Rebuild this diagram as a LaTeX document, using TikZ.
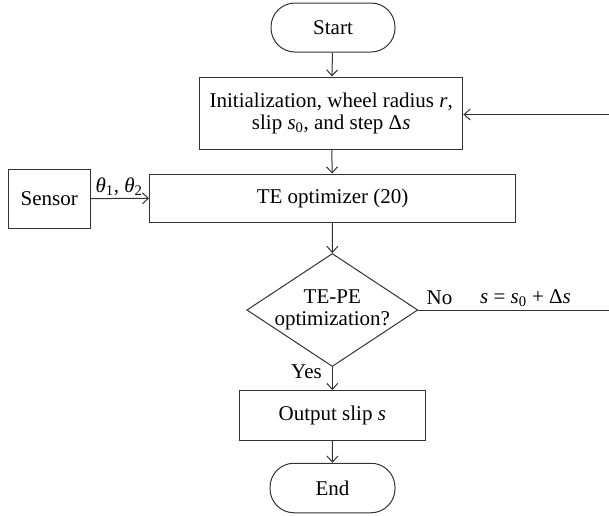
\documentclass[tikz,border=0pt]{standalone}
\usepackage{fontspec}
\setmainfont{Liberation Serif}
\usetikzlibrary{arrows.meta,shapes.geometric,calc}
\begin{document}
\begin{tikzpicture}[x=1pt,y=-1pt,
  font=\fontsize{21}{22}\selectfont,
  line width=1pt,
  every node/.style={inner sep=0pt},
  box/.style={draw=black!80, rectangle, align=center},
  term/.style={draw=black!80, rectangle, rounded corners=24pt},
  conn/.style={draw=black!80, -{Straight Barb[length=6pt,width=11pt]}},
  plain/.style={draw=black!80},
  lbl/.style={text=black}
]
\useasboundingbox (0,0) rectangle (609,515);
% nodes
\node[term, minimum width=124pt, minimum height=49pt] (start) at (333,27.5) {Start};
\node[box, minimum width=263.5pt, minimum height=72pt] (init) at (331.2,113)
  {Initialization, wheel radius \textit{r},\\ slip \textit{s}\textsubscript{0}, and step Δ\textit{s}};
\node[box, minimum width=82pt, minimum height=59pt] (sensor) at (49.2,198.6) {Sensor};
\node[box, minimum width=366pt, minimum height=48.5pt] (te) at (332.6,198.3) {TE optimizer (20)};
\node[diamond, draw=black!80, minimum width=171pt, minimum height=113pt] (dec) at (332.3,310) {};
\node[align=center] (dectext) at (dec.center) {TE-PE\\optimization?};
\node[box, minimum width=185.5pt, minimum height=49.5pt] (out) at (332.3,415.3) {Output slip \textit{s}};
\node[term, minimum width=125pt, minimum height=49.5pt] (end) at (332.5,488) {End};
% free ends of feedback line (outside the visible frame)
\coordinate (fbA) at (613,310);
\coordinate (fbB) at (613,114.5);
% connectors
\draw[conn] (start) -- (init);
\draw[conn] (init) -- (te);
\draw[conn] (sensor.east) -- (te.west);
\draw[conn] (te) -- (dec.north);
\draw[conn] (dec.south) -- (out);
\draw[conn] (out) -- (end);
\draw[plain] (dec.east) -- (fbA);
\draw[plain] (fbA) -- (fbB);
\draw[conn] (fbB) -- (init.east |- fbB);
% labels
\node[lbl] (theta) at (119,187) {\textit{θ}\textsubscript{1}, \textit{θ}\textsubscript{2}};
\node[lbl] (no) at (439.5,298) {No};
\node[lbl] (eq) at (525.5,298) {\textit{s} = \textit{s}\textsubscript{0} + Δ\textit{s}};
\node[lbl] (yes) at (306.5,372) {Yes};
\end{tikzpicture}
\end{document}
